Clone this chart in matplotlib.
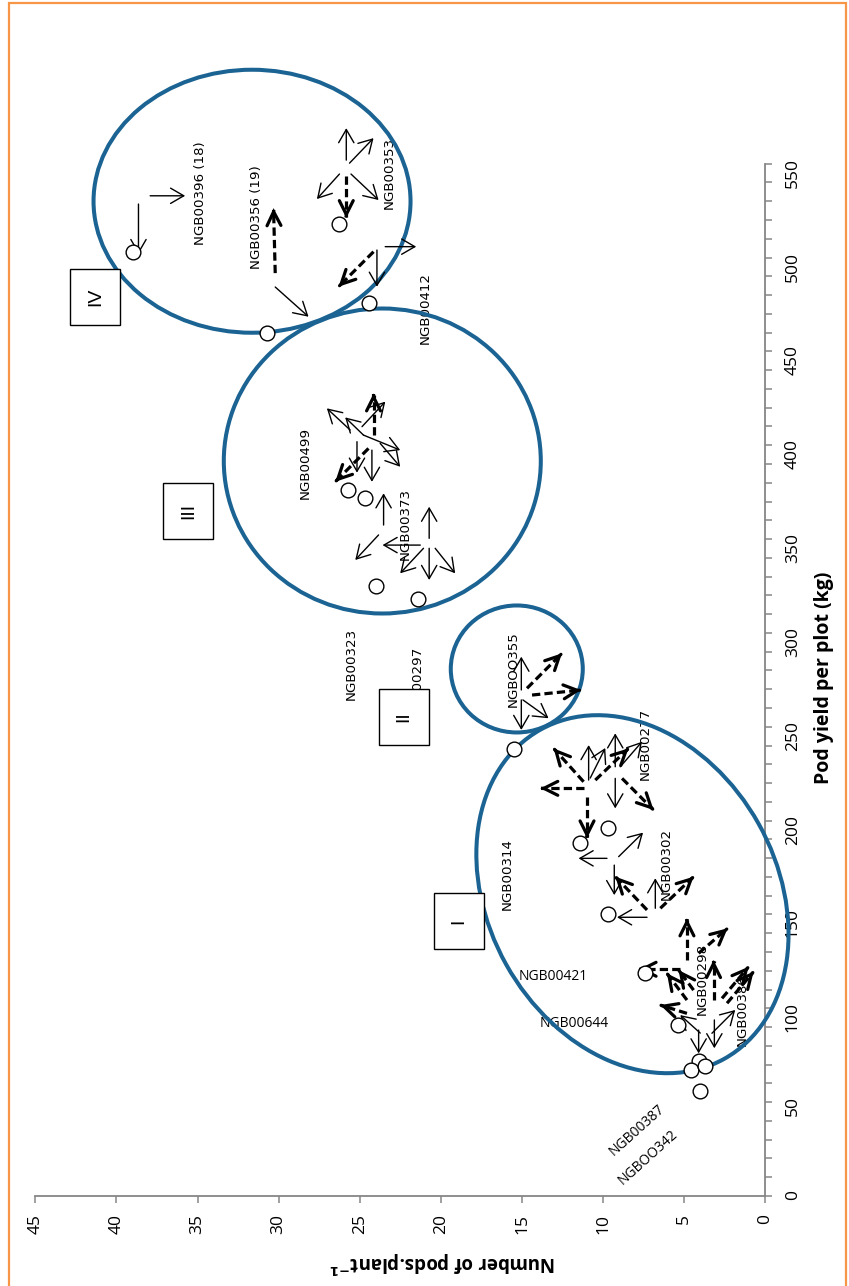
import numpy as np
import matplotlib.pyplot as plt
from matplotlib.patches import Ellipse, Rectangle
from matplotlib.transforms import Affine2D, ScaledTranslation

plt.rcParams['font.family'] = ['DejaVu Sans']

# 各基因型: 每株荚数 / 小区荚果产量
pods = [39.0, 26.3, 24.4, 30.7, 25.7, 24.7, 24.0, 21.4, 15.5,
        9.7, 11.4, 9.7, 7.4, 5.4, 4.1, 4.6, 3.7, 4.0]
pod_yield = [503, 518, 476, 460, 376, 372, 325, 318, 238,
             196, 188, 150, 119, 91, 72, 67, 69, 56]

pod_ticks = list(range(0, 46, 5))
yield_ticks = list(range(0, 551, 50))

# 基因型标注 (名称, 荚数, 产量, 旋转角度)
names = ['NGB00396 (18)', 'NGB00356 (19)', 'NGB00353', 'NGB00412', 'NGB00499',
         'NGB00373', 'NGB00323', 'NGB00297', 'NGBOO355', 'NGB00277', 'NGB00314',
         'NGB00302', 'NGB00298', 'NGB00386', 'NGB00421', 'NGB00644',
         'NGB00387', 'NGBOO342']
name_p = [34.83, 31.34, 23.16, 20.98, 28.36, 22.19, 25.54, 21.45, 15.55, 7.43,
          15.93, 6.10, 3.90, 1.43, 13.07, 11.79, 7.91, 7.24]
name_y = [534.4, 521.7, 545.3, 473.1, 390.5, 358.0, 283.4, 273.8, 280.7, 240.8,
          171.5, 176.8, 115.5, 99.1, 116.7, 91.7, 35.1, 20.8]
name_rot = [90] * 14 + [0, 0, 42, 42]

# 分组
groups = ['IV', 'III', 'II', 'I']
group_p = [31.64, 23.61, 15.32, 8.19]
group_y = [530.0, 391.6, 280.8, 160.8]
box_p = [41.3, 35.57, 22.26, 18.91]
box_y = [479.0, 365.0, 255.2, 146.5]

# 性状向量: 起点(荚数, 产量), 屏幕方向 dx, dy, 是否虚线
arrows = [
    (38.64, 528.5, 0, -50, 0), (37.92, 532.9, 35, 0, 0), (30.21, 491.7, -1.7, 65, 1),
    (30.21, 484.3, 33.3, -29.7, 0), (25.83, 551.9, 0, 32, 0), (25.63, 550.3, 24, 25, 0),
    (26.25, 544.5, -22.6, -25, 0), (25.54, 544.5, 27.6, -26, 0), (25.83, 543.4, 0, -42, 1),
    (24.15, 503.1, -35, -35, 1), (23.94, 504.0, 0, -36.7, 0), (23.43, 505.8, 31, 0, 0),
    (24.15, 405.4, 0, 41.7, 1), (25.59, 408.1, -23.3, 21.7, 0), (24.77, 405.4, -18.3, 17.7, 0),
    (24.86, 409.9, 23.3, 25, 0), (24.77, 405.4, 36.7, -15, 0), (23.74, 401.0, 20, -23.4, 0),
    (24.25, 397.4, 0, -31.7, 0), (25.17, 401.9, 0, -31, 0), (24.46, 398.3, -33.3, -33.4, 1),
    (23.53, 357.5, 0, 31.7, 0), (23.84, 352.2, -23.3, -25, 0), (21.27, 346.8, -37.7, 0, 0),
    (20.72, 350.4, 0, 31.6, 0), (21.07, 345.1, -23.3, -25, 0), (20.72, 345.1, 0, -31.7, 0),
    (20.35, 345.1, 20, -25, 0),
    (15.04, 269.6, 0, 33.3, 0), (14.69, 270.5, 35, 35, 1), (14.38, 266.9, 49, 5, 1),
    (15.04, 264.3, 0, -30, 0), (14.94, 264.3, 25.6, -18.3, 0),
    (11.20, 220.7, -30, 33.4, 1), (10.89, 221.6, 0, 35, 0), (10.79, 222.7, 15, 30, 0),
    (11.20, 217.2, -43.3, 0, 1), (10.48, 221.6, 33.3, 31.7, 1), (9.25, 228.7, 0, 33.4, 0),
    (8.94, 228.7, 21.7, 25, 0), (9.25, 222.5, 0, -30, 0), (8.83, 222.5, 31.6, -31.7, 1),
    (10.99, 212.7, 0, -41.6, 1), (9.76, 179.9, -28.4, 0, 0), (9.04, 180.8, 24.4, 24, 0),
    (9.31, 176.3, 0, -30, 0), (7.29, 152.4, -31.7, 33.3, 1), (6.78, 153.3, 0, 30, 0),
    (6.47, 153.3, 33.3, 31.6, 1), (7.29, 148.5, -30, 0, 0),
    (4.83, 125.7, 0, 41.7, 1), (4.11, 129.3, 29, 25, 1), (5.24, 120.8, -41.7, 0, 1),
    (3.19, 104.4, 0, 40, 1), (2.67, 105.3, 26.6, 31.6, 1), (2.36, 102.7, 26.6, 31.6, 1),
    (4.83, 104.4, -20, 26.7, 1), (4.42, 109.7, -15, 20, 1), (4.83, 97.3, -26.7, 8.3, 1),
    (4.11, 88.4, 0, -23.3, 0), (3.14, 93.8, 0, -28.3, 0), (3.29, 86.7, 23.3, 23.3, 0),
    (4.01, 86.8, -20, 18, 0),
]

W, H = 849, 1286
fig = plt.figure(figsize=(W / 100, H / 100), dpi=100)
ax = fig.add_axes([35.3 / W, 1 - 1196 / H, 730 / W, (1196 - 163.7) / H])
ax.set_xlim(45, 0)
ax.set_ylim(0, 550)
ax.set_xticks(pod_ticks)
ax.set_yticks(yield_ticks)
ax.set_yticks(range(0, 551, 10), minor=True)
ax.yaxis.tick_right()

# 坐标轴样式
for s in ['top', 'left']:
    ax.spines[s].set_visible(False)
for s in ['right', 'bottom']:
    ax.spines[s].set_color('#868686')
    ax.spines[s].set_linewidth(1.3)
ax.tick_params(which='both', direction='out', length=5, width=1.1, color='#868686')
ax.tick_params(axis='x', pad=8, labelsize=12.5, labelrotation=90, labelfontfamily='Open Sans')
ax.tick_params(axis='y', pad=9, labelsize=12.5, labelrotation=90, labelfontfamily='Open Sans')

fig.text(824 / W, 1 - 678 / H, 'Pod yield per plot (kg)', rotation=90, ha='center',
         va='center', fontsize=14, fontweight='bold', family=['Open Sans', 'DejaVu Sans'])
fig.text(443 / W, 1 - 1262 / H, r'Number of pods.plant$^{\mathbf{-1}}$', rotation=180,
         ha='center', va='center', fontsize=13.5, fontweight='bold',
         family=['Open Sans', 'DejaVu Sans'])

# 外框
fig.add_artist(Rectangle((9 / W, -0.01), (846 - 9) / W, 1.01 - 3 / H, transform=fig.transFigure,
                         fill=False, ec='#f79646', lw=1.6))

ax.scatter(pods, pod_yield, s=10.6 ** 2, facecolors='white', edgecolors='black',
           linewidths=1.0, zorder=6, clip_on=False)

for n, p, y, r in zip(names, name_p, name_y, name_rot):
    fam = ['DejaVu Sans'] if r == 90 else ['Open Sans', 'DejaVu Sans']
    ax.text(p, y, n, rotation=r, ha='center', va='center', fontsize=9.6 if r == 90 else 10,
            family=fam, zorder=3, rotation_mode='anchor' if r == 42 else 'default')


def px_trans(p, y):
    # 以数据点为中心、以像素为单位的变换
    return Affine2D().scale(0.01) + fig.dpi_scale_trans + ScaledTranslation(p, y, ax.transData)


ell_size = [(317, 263, 0), (317, 305, 0), (132, 127, 0), (377, 289, -60.8)]
for (w, h, a), p, y in zip(ell_size, group_p, group_y):
    ax.add_patch(Ellipse((0, 0), w, h, angle=a, fill=False, ec='#1b6393', lw=2.9,
                         transform=px_trans(p, y), clip_on=False, zorder=4))

for g, p, y in zip(groups, box_p, box_y):
    ax.add_patch(Rectangle((-25, -28), 50, 56, fc='white', ec='black', lw=1.0,
                           transform=px_trans(p, y), clip_on=False, zorder=7))
    ax.text(p, y, g, rotation=90, ha='center', va='center', fontsize=14,
            family='Liberation Sans', zorder=8)


def tip(p, y, dx, dy):
    x0, y0 = ax.transData.transform((p, y))
    k = fig.dpi / 100
    return ax.transData.inverted().transform((x0 + dx * k, y0 + dy * k))


# 箭头: 细实线 / 粗虚线
for p, y, dx, dy, dashed in arrows:
    hp, hy = tip(p, y, dx, dy)
    if dashed:
        bp, by = tip(p, y, dx * 0.97, dy * 0.97)
        ax.plot([p, bp], [y, by], color='black', lw=2.3, ls=(0, (2.6, 1.3)),
                zorder=5, clip_on=False, solid_capstyle='butt')
        ax.annotate('', xy=(hp, hy), xytext=(bp, by),
                    arrowprops=dict(arrowstyle='->,head_length=1.0,head_width=0.5', lw=2.3,
                                    color='black', shrinkA=0, shrinkB=0, mutation_scale=10,
                                    joinstyle='miter'), zorder=5, annotation_clip=False)
    else:
        ax.annotate('', xy=(hp, hy), xytext=(p, y),
                    arrowprops=dict(arrowstyle='->,head_length=0.95,head_width=0.55', lw=1.0,
                                    color='black', shrinkA=0, shrinkB=0, mutation_scale=10),
                    zorder=5, annotation_clip=False)

fig.savefig('out.png', dpi=100)
